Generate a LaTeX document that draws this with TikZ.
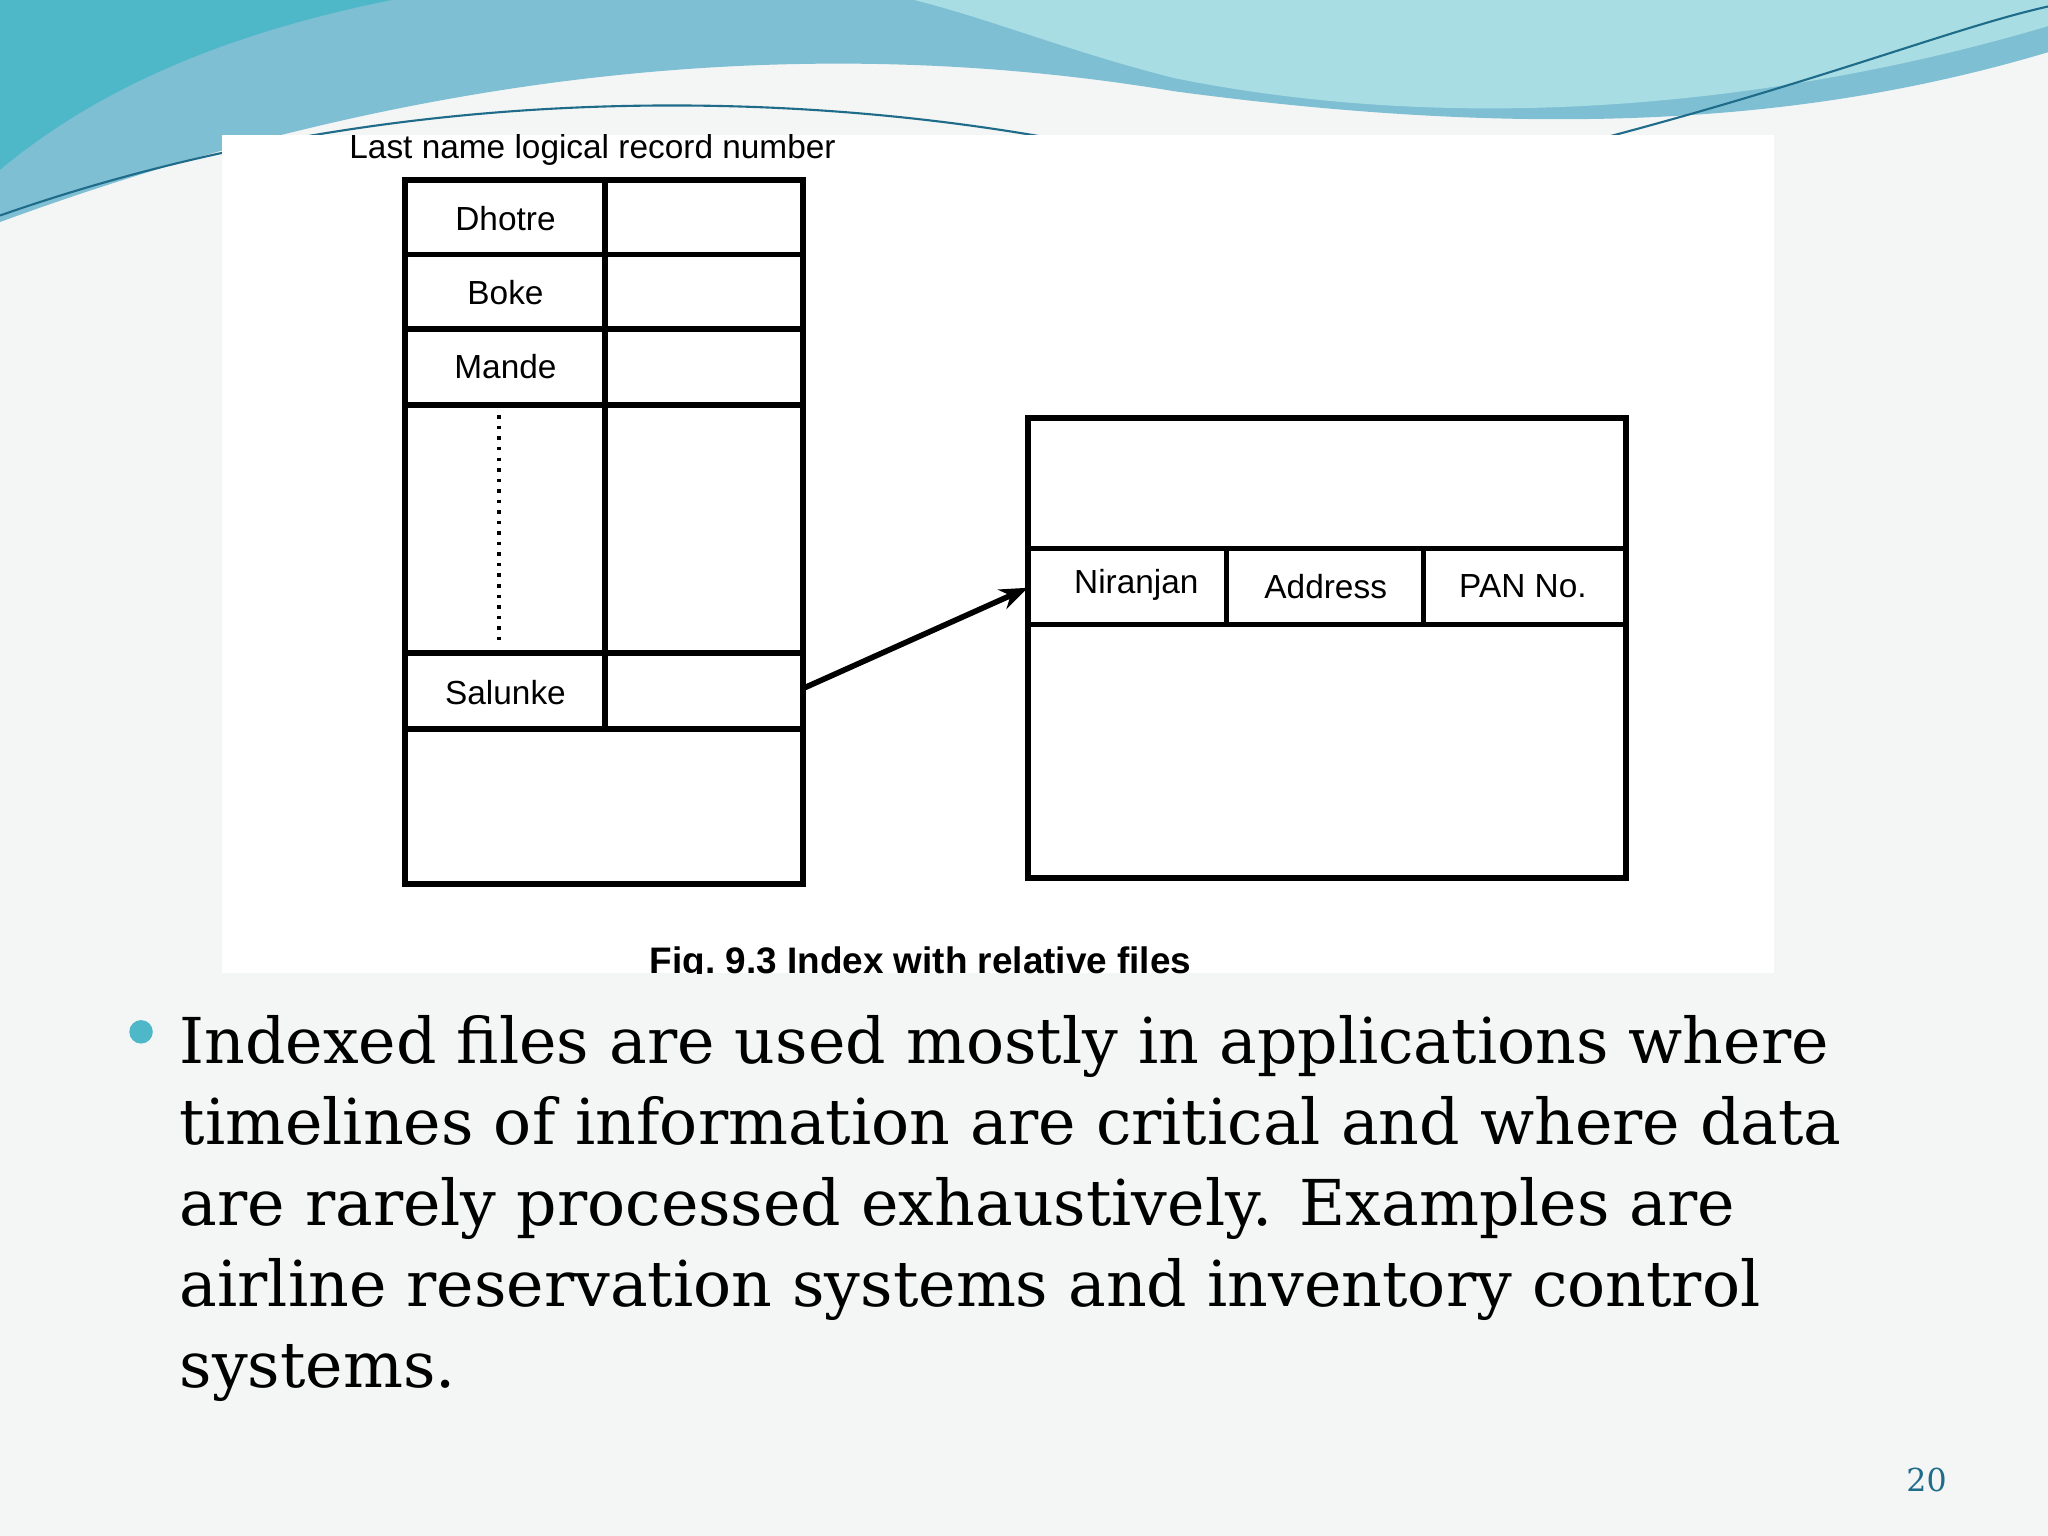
\documentclass[tikz,border=0pt]{standalone}
\usepackage{fontspec}
\usetikzlibrary{arrows.meta}
\setmainfont{DejaVu Serif}
\newfontfamily\diag{Liberation Sans}
\definecolor{bg}{HTML}{F4F5F5}
\definecolor{teal1}{HTML}{7FBFD3}
\definecolor{teal2}{HTML}{A9DDE4}
\definecolor{teal3}{HTML}{4FB8C8}
\definecolor{pn}{HTML}{1F6C8A}
\begin{document}
\begin{tikzpicture}[x=0.013061cm,y=-0.013061cm,
  cell/.style={draw=black,line width=1.6pt},
  lbl/.style={font=\diag\fontsize{9.5}{11}\selectfont},
  body/.style={anchor=base west,font=\fontsize{18}{21}\selectfont,inner sep=0}]
\fill[bg] (0,0) rectangle (1568,1176);
\useasboundingbox (0,0) rectangle (1568,1176);
% top waves
\fill[teal1] (0,0) -- (1568,0) -- (1568,40) .. controls (1400,90) and (1200,110) .. (900,70) .. controls (600,20) and (300,60) .. (0,170) -- cycle;
\fill[teal2] (700,0) -- (1568,0) -- (1568,20) .. controls (1400,70) and (1150,110) .. (900,60) .. controls (820,40) and (760,15) .. (700,0) -- cycle;
\fill[teal3] (0,0) -- (300,0) .. controls (150,30) and (60,80) .. (0,130) -- cycle;
\draw[pn,line width=0.6pt] (0,165) .. controls (300,60) and (600,70) .. (800,105);
\draw[pn,line width=0.6pt] (1230,105) .. controls (1400,60) and (1500,20) .. (1568,5);
% image panel
\fill[white] (170,103) rectangle (1358,745);
\begin{scope}
\clip (170,103) rectangle (1358,745);
\node[lbl,anchor=west] (hd) at (258,115) {Last name logical record number};
% left table
\draw[cell] (310,138) rectangle (615,677);
\draw[cell] (463,138) -- (463,558);
\foreach \y in {195,252,310,500,558} \draw[cell] (310,\y) -- (615,\y);
\node[lbl] (d) at (387,167) {Dhotre};
\node[lbl] (b) at (387,224) {Boke};
\node[lbl] (m) at (387,281) {Mande};
\node[lbl] (s) at (387,530) {Salunke};
\draw[dotted,line width=1pt] (382,318) -- (382,492);
\coordinate (sr) at (615,527);
% right box
\draw[cell] (787,320) rectangle (1245,672);
\draw[cell] (787,420) -- (1245,420);
\draw[cell] (787,478) -- (1245,478);
\draw[cell] (939,420) -- (939,478);
\draw[cell] (1090,420) -- (1090,478);
\node[lbl] (n) at (870,448) {Niranjan};
\node[lbl] (a) at (1015,449) {Address};
\node[lbl] (p) at (1166,449) {PAN No.};
\coordinate (nl) at (787,450);
\draw[line width=1.6pt,-{Stealth[length=8pt]}] (sr) -- (nl);
\node[font=\diag\bfseries\fontsize{10.5}{13}\selectfont,anchor=west] (cap) at (488,738) {Fig.\ 9.3 Index with relative files};
\end{scope}
% bullet
\fill[teal3] (108,790) circle (9);
\node[body] (l1) at (137,814) {Indexed files are used mostly in applications where};
\node[body] (l2) at (137,876) {timelines of information are critical and where data};
\node[body] (l3) at (137,938) {are rarely processed exhaustively. Examples are};
\node[body] (l4) at (137,1000) {airline reservation systems and inventory control};
\node[body] (l5) at (137,1062) {systems.};
\node[text=pn,font=\fontsize{9}{11}\selectfont] (pg) at (1475,1133) {20};
\end{tikzpicture}
\end{document}
